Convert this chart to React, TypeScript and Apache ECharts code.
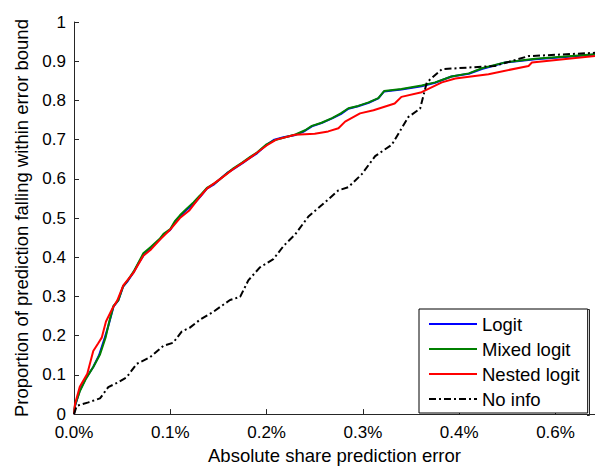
import React, { useEffect, useRef } from "react";
import * as echarts from "echarts";

const xTickLabels = ["0.0%", "0.1%", "0.2%", "0.3%", "0.4%", "0.6%"];
const seriesNames = ["Logit", "Mixed logit", "Nested logit", "No info"];

const logitData = [
  [0, 0], [0.001, 0.02], [0.006, 0.06], [0.012, 0.09], [0.02, 0.12], [0.026, 0.15], [0.032, 0.195],
  [0.036, 0.228], [0.041, 0.274], [0.046, 0.29], [0.051, 0.325], [0.056, 0.34], [0.062, 0.362],
  [0.067, 0.385], [0.072, 0.404], [0.08, 0.425], [0.089, 0.445], [0.093, 0.458], [0.1, 0.47],
  [0.105, 0.49], [0.11, 0.504], [0.117, 0.521], [0.124, 0.535], [0.131, 0.554], [0.138, 0.575],
  [0.145, 0.585], [0.152, 0.6], [0.159, 0.615], [0.1655, 0.625], [0.175, 0.64], [0.183, 0.654],
  [0.19, 0.665], [0.2, 0.687], [0.208, 0.7], [0.2175, 0.706], [0.23, 0.712], [0.238, 0.72],
  [0.247, 0.734], [0.257, 0.742], [0.268, 0.754], [0.277, 0.765], [0.285, 0.779], [0.295, 0.785],
  [0.306, 0.794], [0.316, 0.805], [0.322, 0.823], [0.34, 0.828], [0.361, 0.836], [0.375, 0.845],
  [0.392, 0.861], [0.41, 0.868], [0.4235, 0.88], [0.4477, 0.8965], [0.4789, 0.905], [0.51, 0.911],
  [0.541, 0.917],
];

const mixedData = [
  [0, 0], [0.001, 0.022], [0.006, 0.058], [0.012, 0.088], [0.02, 0.12], [0.027, 0.152], [0.033, 0.197],
  [0.036, 0.23], [0.041, 0.276], [0.046, 0.29], [0.051, 0.326], [0.056, 0.342], [0.062, 0.364],
  [0.067, 0.387], [0.072, 0.41], [0.08, 0.427], [0.089, 0.447], [0.093, 0.46], [0.1, 0.472],
  [0.105, 0.493], [0.11, 0.507], [0.117, 0.524], [0.124, 0.54], [0.131, 0.558], [0.138, 0.577],
  [0.145, 0.587], [0.152, 0.6], [0.159, 0.614], [0.1655, 0.627], [0.175, 0.642], [0.183, 0.656],
  [0.19, 0.667], [0.2, 0.688], [0.208, 0.698], [0.2175, 0.705], [0.23, 0.713], [0.24, 0.724],
  [0.247, 0.735], [0.257, 0.743], [0.268, 0.755], [0.277, 0.767], [0.285, 0.78], [0.295, 0.786],
  [0.306, 0.795], [0.316, 0.806], [0.322, 0.824], [0.34, 0.829], [0.361, 0.838], [0.375, 0.846],
  [0.392, 0.861], [0.41, 0.869], [0.4235, 0.882], [0.4477, 0.897], [0.4789, 0.906], [0.51, 0.912],
  [0.541, 0.918],
];

const nestedData = [
  [0, 0], [0.001, 0.025], [0.006, 0.07], [0.0138, 0.103], [0.02, 0.161], [0.025, 0.18], [0.0288, 0.195],
  [0.0332, 0.236], [0.04, 0.27], [0.045, 0.29], [0.0512, 0.328], [0.0616, 0.36], [0.072, 0.404],
  [0.08, 0.42], [0.0893, 0.445], [0.0997, 0.47], [0.11, 0.5], [0.12, 0.52], [0.131, 0.555],
  [0.138, 0.575], [0.152, 0.6], [0.1655, 0.625], [0.183, 0.654], [0.2, 0.685], [0.21, 0.7],
  [0.2296, 0.7125], [0.25, 0.715], [0.264, 0.721], [0.2746, 0.729], [0.2815, 0.746], [0.297, 0.767],
  [0.311, 0.775], [0.333, 0.792], [0.34, 0.809], [0.361, 0.821], [0.382, 0.846], [0.396, 0.856],
  [0.4304, 0.867], [0.472, 0.888], [0.4755, 0.8965], [0.541, 0.913],
];

const noInfoData = [
  [0, 0], [0.0028, 0.021], [0.015, 0.03], [0.027, 0.04], [0.0356, 0.069], [0.045, 0.08], [0.0547, 0.094],
  [0.065, 0.128], [0.079, 0.145], [0.0928, 0.174], [0.103, 0.182], [0.112, 0.211], [0.12, 0.22],
  [0.131, 0.241], [0.1447, 0.261], [0.162, 0.291], [0.1725, 0.299], [0.181, 0.341], [0.193, 0.374],
  [0.207, 0.395], [0.2175, 0.4286], [0.2296, 0.458], [0.2434, 0.504], [0.2573, 0.533],
  [0.2746, 0.5707], [0.285, 0.579], [0.2989, 0.612], [0.3127, 0.658], [0.33, 0.687], [0.3473, 0.758],
  [0.3594, 0.779], [0.3629, 0.8128], [0.3664, 0.846], [0.382, 0.8797], [0.437, 0.888],
  [0.472, 0.913], [0.541, 0.9215],
];

const FONT = "'Liberation Sans', Arial, sans-serif";

export default function App() {
  const ref = useRef<HTMLDivElement>(null);
  useEffect(() => {
    if (!ref.current) return;
    const chart = echarts.init(ref.current, null, { renderer: "svg" });
    const lineSeries = (name: string, data: number[][], color: string, type: any) => ({
      name,
      type: "line",
      data,
      showSymbol: false,
      symbol: "none",
      lineStyle: { color, width: 2, type },
      itemStyle: { color },
      z: 3,
    });
    chart.setOption({
      animation: false,
      backgroundColor: "#fff",
      textStyle: { fontFamily: FONT },
      grid: { left: 74, right: 0, top: 22, bottom: 49, containLabel: false },
      xAxis: {
        type: "value",
        min: 0,
        max: 0.541,
        interval: 0.1,
        name: "Absolute share prediction error",
        nameLocation: "middle",
        nameGap: 30,
        nameTextStyle: { fontSize: 18.5, color: "#000", fontFamily: FONT },
        axisLine: { show: true, lineStyle: { color: "#262626", width: 1 } },
        axisTick: { show: true, inside: true, length: 5, lineStyle: { color: "#262626" } },
        axisLabel: {
          show: true,
          margin: 10,
          fontSize: 17,
          color: "#000",
          fontFamily: FONT,
          showMaxLabel: false,
          formatter: (v: number) => {
            const i = Math.round(v * 10);
            return xTickLabels[i] ?? "";
          },
        },
        splitLine: { show: false },
      },
      yAxis: {
        type: "value",
        min: 0,
        max: 1,
        interval: 0.1,
        name: "Proportion of prediction falling within error bound",
        nameLocation: "middle",
        nameGap: 38,
        nameTextStyle: { fontSize: 18.5, color: "#000", fontFamily: FONT },
        axisLine: { show: true, lineStyle: { color: "#262626", width: 1 } },
        axisTick: { show: true, inside: true, length: 5, lineStyle: { color: "#262626" } },
        axisLabel: { margin: 8, fontSize: 17, color: "#000", fontFamily: FONT },
        splitLine: { show: false },
      },
      legend: {
        data: seriesNames,
        orient: "vertical",
        left: 419,
        top: 309,
        itemWidth: 48,
        itemHeight: 20,
        itemGap: 5,
        padding: [5, 8, 4, 9],
        borderColor: "#000",
        borderWidth: 1,
        backgroundColor: "#fff",
        itemStyle: { opacity: 0 },
        textStyle: { fontSize: 18.5, color: "#000", fontFamily: FONT, lineHeight: 20 },
        z: 10,
      },
      graphic: [
        {
          type: "polyline",
          shape: { points: [[587, 309.5], [589.5, 309.5], [589.5, 415.5], [587, 415.5]] },
          style: { stroke: "#262626", lineWidth: 1, fill: "none" },
          z: 20,
        },
      ],
      series: [
        lineSeries(seriesNames[0], logitData, "#0000ff", "solid"),
        lineSeries(seriesNames[1], mixedData, "#008000", "solid"),
        lineSeries(seriesNames[2], nestedData, "#ff0000", "solid"),
        lineSeries(seriesNames[3], noInfoData, "#000000", [7, 3, 2, 3]),
      ],
    });
    return () => chart.dispose();
  }, []);
  return (
    <div
      ref={ref}
      style={{ position: "fixed", left: 0, top: 0, width: 595, height: 470, background: "#fff" }}
    />
  );
}
